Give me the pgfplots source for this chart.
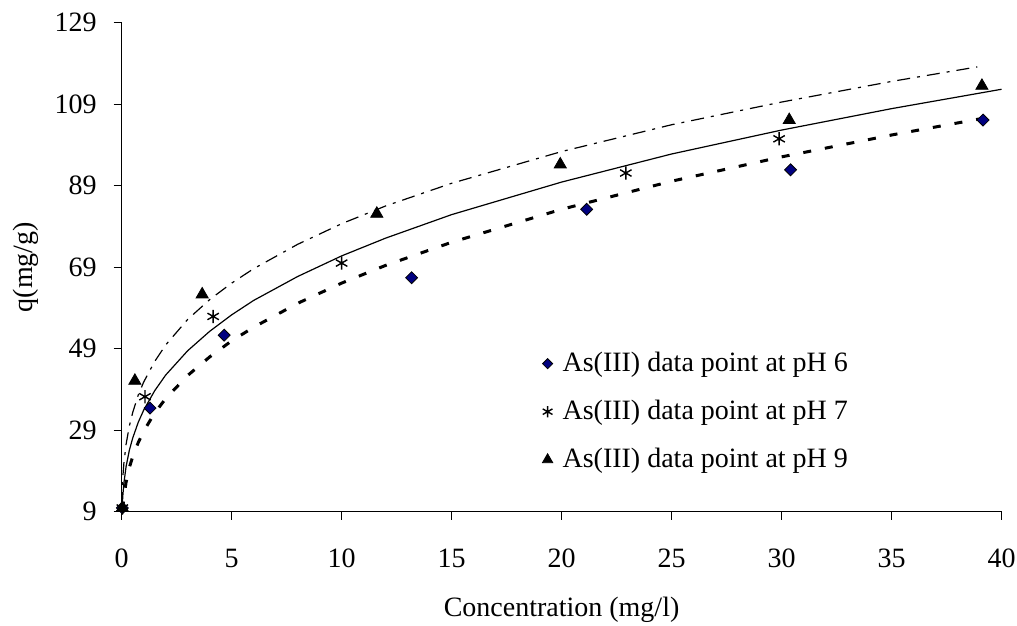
\documentclass[border=0pt]{standalone}
\usepackage{fontspec}
\setmainfont{Liberation Serif}
\usepackage{pgfplots}
\pgfplotsset{compat=1.18}
\definecolor{diafill}{RGB}{0,0,128}

\begin{document}
\begin{tikzpicture}
\path[use as bounding box] (-60.85pt,-57.1pt) rectangle (447.75pt,255.85pt);
\begin{axis}[
  at={(0pt,0pt)}, anchor=south west,
  scale only axis, width=440pt, height=244.5pt,
  xmin=0, xmax=40, ymin=9, ymax=129,
  axis x line=bottom, axis y line=left,
  axis line style={-, line width=0.5pt, black},
  xtick={0,5,...,40}, ytick={9,29,...,129},
  tick align=outside, major tick length=4pt,
  tick style={line width=0.5pt, black},
  /pgf/number format/assume math mode=true,
  tick label style={font=\fontsize{14}{16.8}\selectfont},
  label style={font=\fontsize{14}{16.8}\selectfont},
  xticklabel style={yshift=-11.2pt},
  yticklabel style={xshift=-5pt},
  xlabel={Concentration (mg/l)}, ylabel={q(mg/g)},
  x label style={at={(axis description cs:0.5,-0.2004)}, anchor=center},
  y label style={at={(axis description cs:-0.1088,0.5)}, anchor=center},
  clip=false,
  legend style={at={(axis description cs:0.4773,0.3345)}, anchor=north west,
    draw=none, fill=none, inner sep=0pt, row sep=8.8pt,
    cells={anchor=west}, font=\fontsize{14}{16.8}\selectfont},
  legend image code/.code={%
    \path (-2.6pt,0pt) (5.3pt,0pt);
    \draw[#1, every mark/.append style={scale=0.85}] plot[only marks] coordinates {(0pt,0pt)};},
]

% Freundlich-type fitted isotherms
\addplot[forget plot, black, line width=1.5pt, dash pattern=on 4pt off 7pt] coordinates {
  (0.045,9.5) (0.1,12.64) (0.2,16.19) (0.35,19.83) (0.5,22.46) (0.75,25.9)
  (1,28.74) (1.5,33.19) (2,36.74) (3,42.41) (4,46.96) (5,50.91) (6,54.25)
  (8,60.12) (10,65.08) (12,69.43) (15,75.1) (20,83.2) (25,90.09) (30,96.06)
  (35,101.43) (39.3,105.67)
};
\addplot[forget plot, black, line width=0.6pt] coordinates {
  (0.02,9.4) (0.05,12.75) (0.1,15.98) (0.2,20.03) (0.35,24.08) (0.5,27.02)
  (0.75,30.87) (1,33.9) (1.5,38.66) (2,42.51) (3,48.48) (4,53.24) (5,57.29)
  (6,60.83) (8,66.7) (10,71.76) (12,76.12) (15,81.89) (20,89.88) (25,96.77)
  (30,102.64) (35,107.9) (40,112.66)
};
\addplot[forget plot, black, line width=0.6pt,
  dash pattern=on 6.5pt off 3.5pt on 1.5pt off 3.5pt] coordinates {
  (0.01,10.62) (0.03,14.67) (0.06,18.01) (0.1,20.84) (0.2,25.5) (0.35,30.06)
  (0.5,33.3) (0.75,37.55) (1,40.79) (1.5,45.85) (2,49.9) (3,56.17) (4,61.03)
  (5,65.08) (6,68.62) (8,74.6) (10,79.66) (12,84.02) (15,89.58) (20,97.37)
  (25,103.95) (30,109.52) (35,114.58) (38.9,118.15)
};

% measured uptake
\addplot[only marks, mark=diamond*, mark size=3pt,
  mark options={fill=diafill, draw=black, line width=0.4pt, xscale=1.33}] coordinates {
  (0.03,9.9) (1.29,34.4) (4.66,52.3) (13.18,66.4) (21.14,83.2) (30.41,92.9) (39.16,105.1)
};
\addlegendentry{As(III) data point at pH 6}
\addplot[only marks, mark=asterisk, mark size=3.3pt,
  mark options={draw=black, line width=0.7pt}] coordinates {
  (0.03,9.9) (1.06,37.2) (4.16,56.9) (10.0,70.0) (22.92,92.1) (29.89,100.5)
};
\addlegendentry{As(III) data point at pH 7}
\addplot[only marks, mark=triangle*, mark size=3.5pt,
  mark options={fill=black, draw=black}] coordinates {
  (0.03,9.9) (0.6,41.1) (3.66,62.3) (11.6,82.1) (19.94,94.2) (30.35,105.1) (39.11,113.5)
};
\addlegendentry{As(III) data point at pH 9}
\end{axis}
\end{tikzpicture}
\end{document}
